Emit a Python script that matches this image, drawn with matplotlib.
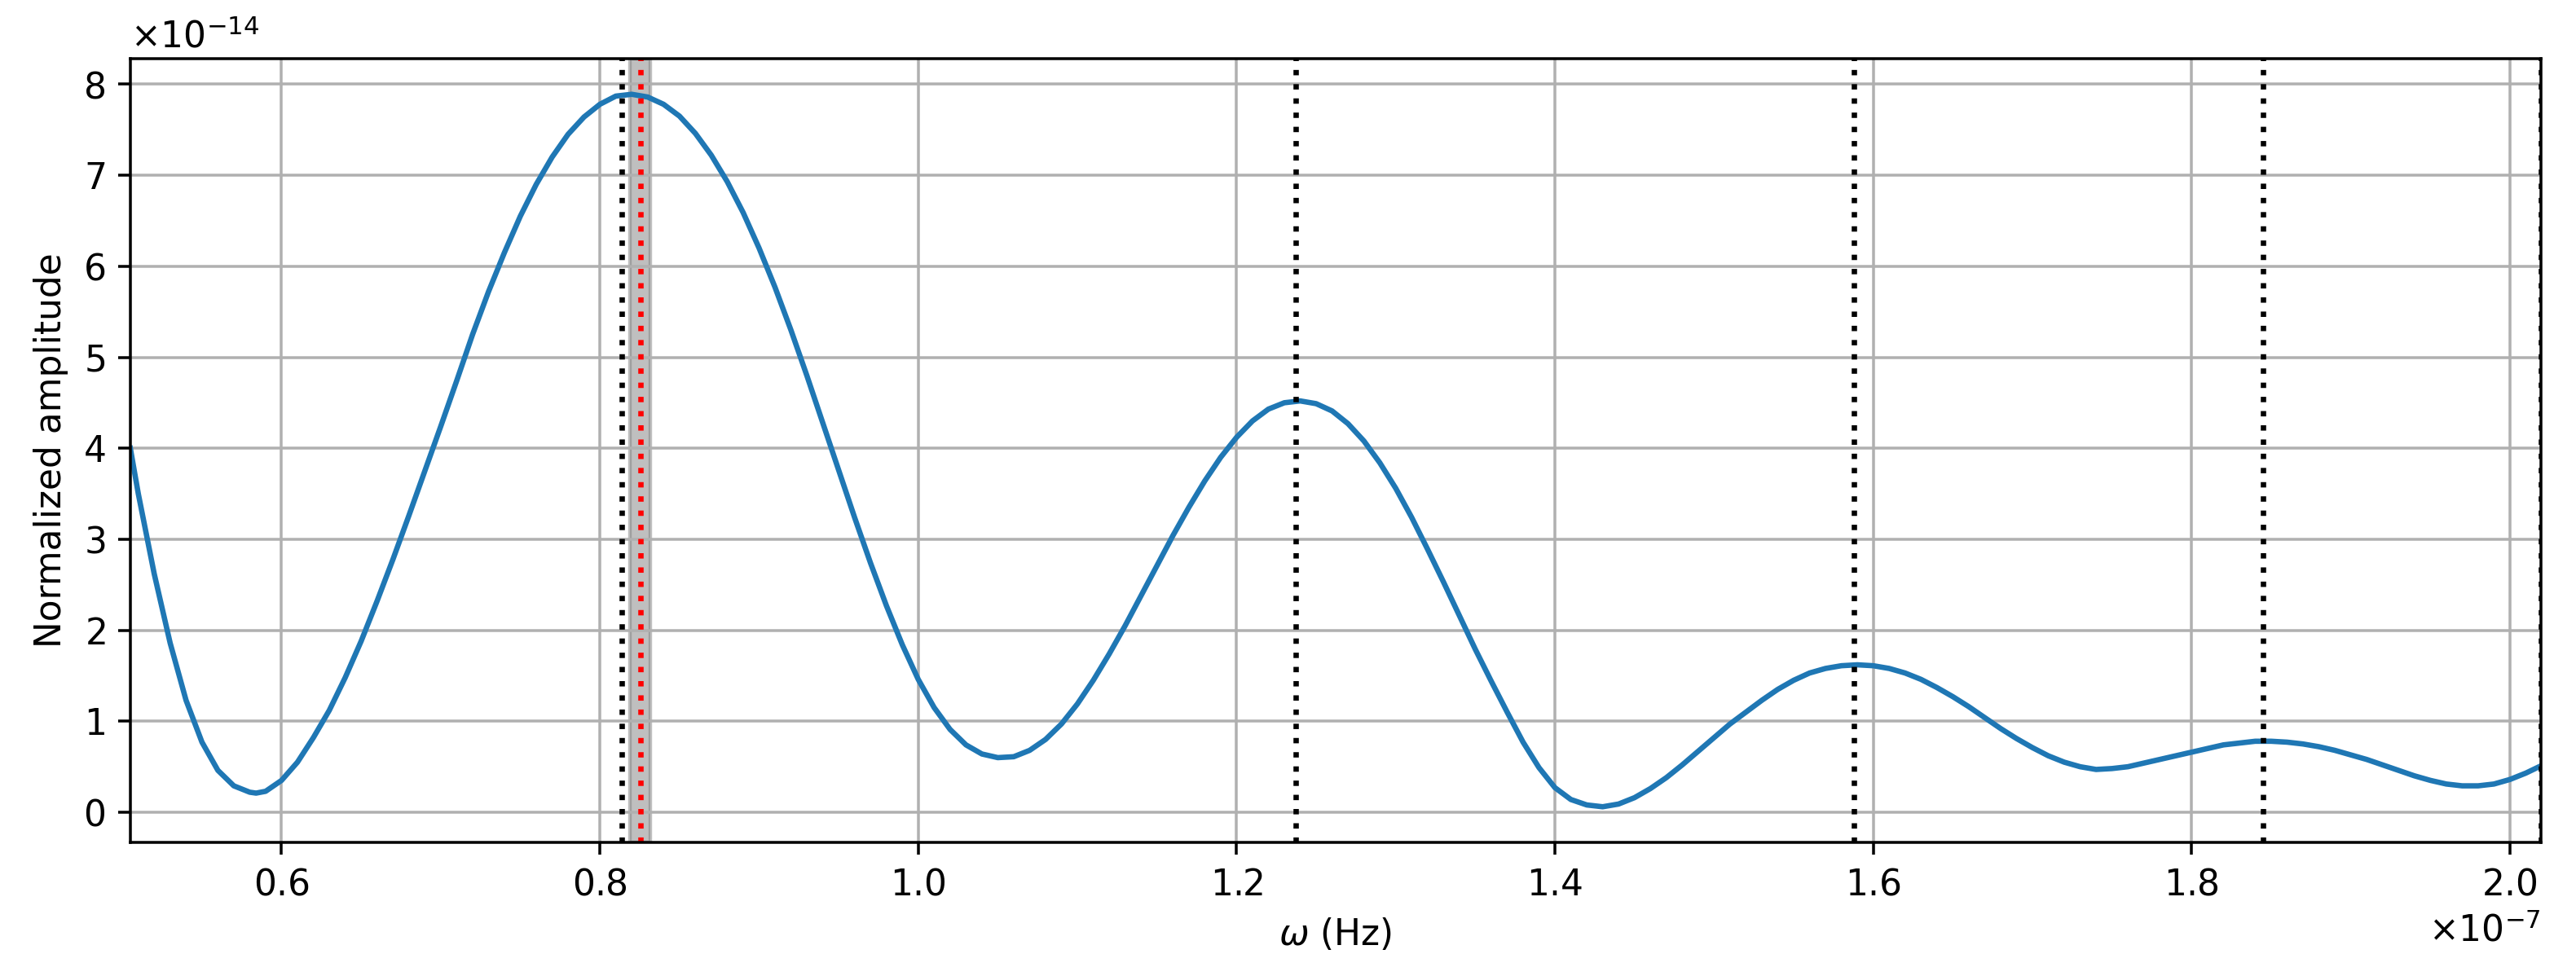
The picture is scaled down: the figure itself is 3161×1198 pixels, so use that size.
import numpy as np
import matplotlib
matplotlib.use("Agg")
import matplotlib.pyplot as plt

# frequency (units of 1e-7 Hz) and normalized amplitude (units of 1e-14)
omega = [0.505, 0.51, 0.52, 0.53, 0.54, 0.55, 0.56, 0.57, 0.58, 0.584,
         0.59, 0.60, 0.61, 0.62, 0.63, 0.64, 0.65, 0.66, 0.67, 0.68,
         0.69, 0.70, 0.71, 0.72, 0.73, 0.74, 0.75, 0.76, 0.77, 0.78,
         0.79, 0.80, 0.81, 0.82, 0.83, 0.84, 0.85, 0.86, 0.87, 0.88,
         0.89, 0.90, 0.91, 0.92, 0.93, 0.94, 0.95, 0.96, 0.97, 0.98,
         0.99, 1.00, 1.01, 1.02, 1.03, 1.04, 1.05, 1.06, 1.07, 1.08,
         1.09, 1.10, 1.11, 1.12, 1.13, 1.14, 1.15, 1.16, 1.17, 1.18,
         1.19, 1.20, 1.21, 1.22, 1.23, 1.24, 1.25, 1.26, 1.27, 1.28,
         1.29, 1.30, 1.31, 1.32, 1.33, 1.34, 1.35, 1.36, 1.37, 1.38,
         1.39, 1.40, 1.41, 1.42, 1.43, 1.44, 1.45, 1.46, 1.47, 1.48,
         1.49, 1.50, 1.51, 1.52, 1.53, 1.54, 1.55, 1.56, 1.57, 1.58,
         1.59, 1.60, 1.61, 1.62, 1.63, 1.64, 1.65, 1.66, 1.67, 1.68,
         1.69, 1.70, 1.71, 1.72, 1.73, 1.74, 1.75, 1.76, 1.77, 1.78,
         1.79, 1.80, 1.81, 1.82, 1.83, 1.84, 1.85, 1.86, 1.87, 1.88,
         1.89, 1.90, 1.91, 1.92, 1.93, 1.94, 1.95, 1.96, 1.97, 1.98,
         1.99, 2.00, 2.01, 2.0195]
amplitude = [4.00, 3.50, 2.62, 1.86, 1.23, 0.77, 0.46, 0.29, 0.22, 0.21,
             0.23, 0.35, 0.55, 0.82, 1.12, 1.48, 1.88, 2.32, 2.78, 3.26,
             3.75, 4.24, 4.74, 5.25, 5.72, 6.15, 6.55, 6.90, 7.20, 7.45,
             7.64, 7.78, 7.87, 7.89, 7.86, 7.78, 7.65, 7.46, 7.22, 6.93,
             6.59, 6.20, 5.77, 5.30, 4.80, 4.28, 3.76, 3.24, 2.74, 2.27,
             1.84, 1.46, 1.15, 0.91, 0.74, 0.64, 0.60, 0.61, 0.68, 0.80,
             0.97, 1.19, 1.45, 1.74, 2.05, 2.38, 2.71, 3.04, 3.35, 3.64,
             3.90, 4.12, 4.30, 4.43, 4.50, 4.52, 4.49, 4.41, 4.27, 4.08,
             3.84, 3.56, 3.24, 2.89, 2.53, 2.16, 1.79, 1.44, 1.10, 0.77,
             0.49, 0.27, 0.14, 0.08, 0.06, 0.09, 0.16, 0.26, 0.38, 0.52,
             0.67, 0.82, 0.97, 1.10, 1.23, 1.35, 1.45, 1.53, 1.58, 1.61,
             1.62, 1.61, 1.58, 1.53, 1.46, 1.37, 1.27, 1.16, 1.04, 0.92,
             0.81, 0.71, 0.62, 0.55, 0.50, 0.47, 0.48, 0.50, 0.54, 0.58,
             0.62, 0.66, 0.70, 0.74, 0.76, 0.78, 0.78, 0.77, 0.75, 0.72,
             0.68, 0.63, 0.58, 0.52, 0.46, 0.40, 0.35, 0.31, 0.29, 0.29,
             0.31, 0.36, 0.43, 0.51]

peak_lines = [0.814, 1.237, 1.588, 1.845, 2.0195]
fit_center = 0.8253
fit_err = 0.0064

x = np.array(omega) * 1e-7
y = np.array(amplitude) * 1e-14

dpi = 316
fig = plt.figure(figsize=(3161 / dpi, 1198 / dpi), dpi=dpi)
ax = fig.add_axes([0.0506, 0.1369, 0.9358, 0.803])

ax.plot(x, y)
for p in peak_lines:
    ax.axvline(p * 1e-7, color='k', linestyle=':', lw=1.5)
ax.axvspan((fit_center - fit_err) * 1e-7, (fit_center + fit_err) * 1e-7, color='gray', alpha=0.5)
ax.axvline(fit_center * 1e-7, color='r', linestyle=':', lw=1.5)

ax.set_xlim(x.min(), x.max())
ax.grid(True)
ax.ticklabel_format(useMathText=True)
ax.set_xlabel(r'$\omega$ (Hz)')
ax.set_ylabel('Normalized amplitude')

fig.savefig('out.png', dpi=dpi)
